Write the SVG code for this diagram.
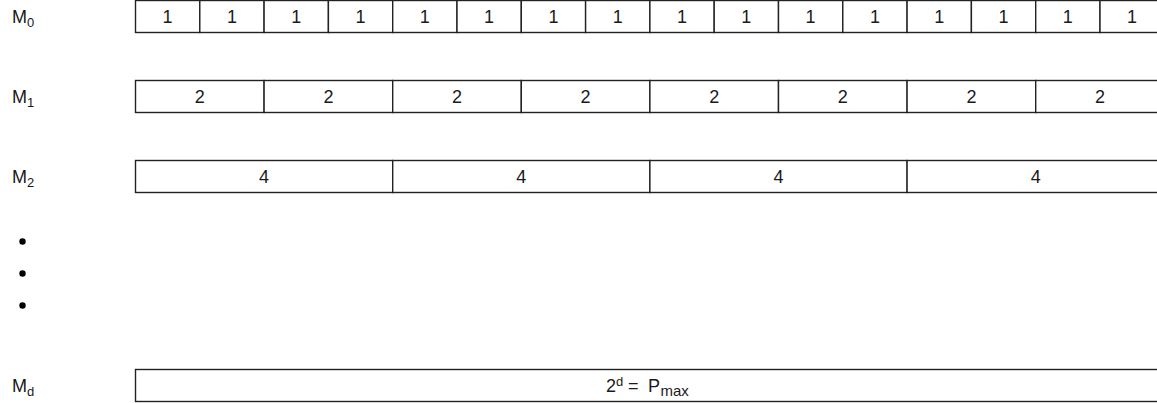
<svg xmlns="http://www.w3.org/2000/svg" width="1157" height="403" viewBox="0 0 1157 403">
<style>
.cell{fill:#fff;stroke:#222;stroke-width:1.4}
.t{font-family:"Liberation Sans",Arial,sans-serif;font-size:18px;fill:#1a1a1a;text-anchor:middle}
.lab{font-family:"Liberation Sans",Arial,sans-serif;font-size:18px;fill:#1a1a1a}
.sub{font-size:13px}
</style>
<rect width="1157" height="403" fill="#fff"/>
<g id="labels">
<text class="lab" x="12" y="23">M<tspan class="sub" dy="4">0</tspan></text>
<text class="lab" x="12" y="103">M<tspan class="sub" dy="4">1</tspan></text>
<text class="lab" x="12" y="183">M<tspan class="sub" dy="4">2</tspan></text>
<text class="lab" x="12" y="392">M<tspan class="sub" dy="4">d</tspan></text>
<circle cx="22.5" cy="241.5" r="3.2" fill="#000"/>
<circle cx="22.5" cy="273.5" r="3.2" fill="#000"/>
<circle cx="22.5" cy="305.5" r="3.2" fill="#000"/>
</g>
<g id="row-M0">
<rect class="cell" x="135.5" y="0.5" width="64.3" height="32"/><text class="t" x="167.6" y="23">1</text>
<rect class="cell" x="199.8" y="0.5" width="64.3" height="32"/><text class="t" x="231.9" y="23">1</text>
<rect class="cell" x="264.1" y="0.5" width="64.3" height="32"/><text class="t" x="296.2" y="23">1</text>
<rect class="cell" x="328.4" y="0.5" width="64.3" height="32"/><text class="t" x="360.5" y="23">1</text>
<rect class="cell" x="392.7" y="0.5" width="64.3" height="32"/><text class="t" x="424.8" y="23">1</text>
<rect class="cell" x="457.0" y="0.5" width="64.3" height="32"/><text class="t" x="489.1" y="23">1</text>
<rect class="cell" x="521.3" y="0.5" width="64.3" height="32"/><text class="t" x="553.4" y="23">1</text>
<rect class="cell" x="585.6" y="0.5" width="64.3" height="32"/><text class="t" x="617.7" y="23">1</text>
<rect class="cell" x="649.9" y="0.5" width="64.3" height="32"/><text class="t" x="682.0" y="23">1</text>
<rect class="cell" x="714.2" y="0.5" width="64.3" height="32"/><text class="t" x="746.3" y="23">1</text>
<rect class="cell" x="778.5" y="0.5" width="64.3" height="32"/><text class="t" x="810.6" y="23">1</text>
<rect class="cell" x="842.8" y="0.5" width="64.3" height="32"/><text class="t" x="874.9" y="23">1</text>
<rect class="cell" x="907.1" y="0.5" width="64.3" height="32"/><text class="t" x="939.2" y="23">1</text>
<rect class="cell" x="971.4" y="0.5" width="64.3" height="32"/><text class="t" x="1003.5" y="23">1</text>
<rect class="cell" x="1035.7" y="0.5" width="64.3" height="32"/><text class="t" x="1067.8" y="23">1</text>
<rect class="cell" x="1100.0" y="0.5" width="64.3" height="32"/><text class="t" x="1132.1" y="23">1</text>
</g>
<g id="row-M1">
<rect class="cell" x="135.5" y="80.5" width="128.6" height="32"/><text class="t" x="199.8" y="103">2</text>
<rect class="cell" x="264.1" y="80.5" width="128.6" height="32"/><text class="t" x="328.4" y="103">2</text>
<rect class="cell" x="392.7" y="80.5" width="128.6" height="32"/><text class="t" x="457.0" y="103">2</text>
<rect class="cell" x="521.3" y="80.5" width="128.6" height="32"/><text class="t" x="585.6" y="103">2</text>
<rect class="cell" x="649.9" y="80.5" width="128.6" height="32"/><text class="t" x="714.2" y="103">2</text>
<rect class="cell" x="778.5" y="80.5" width="128.6" height="32"/><text class="t" x="842.8" y="103">2</text>
<rect class="cell" x="907.1" y="80.5" width="128.6" height="32"/><text class="t" x="971.4" y="103">2</text>
<rect class="cell" x="1035.7" y="80.5" width="128.6" height="32"/><text class="t" x="1100.0" y="103">2</text>
</g>
<g id="row-M2">
<rect class="cell" x="135.5" y="160.5" width="257.2" height="32"/><text class="t" x="264.1" y="183">4</text>
<rect class="cell" x="392.7" y="160.5" width="257.2" height="32"/><text class="t" x="521.3" y="183">4</text>
<rect class="cell" x="649.9" y="160.5" width="257.2" height="32"/><text class="t" x="778.5" y="183">4</text>
<rect class="cell" x="907.1" y="160.5" width="257.2" height="32"/><text class="t" x="1035.7" y="183">4</text>
</g>
<g id="row-Md">
<rect class="cell" x="135.5" y="369.5" width="1028.8" height="32"/>
<text class="lab" x="606" y="392">2<tspan class="sub" dy="-6">d</tspan><tspan x="628" dy="6">=</tspan><tspan x="648">P</tspan><tspan class="sub" x="660.5" dy="4" style="font-size:15px">max</tspan></text>
</g>
<g id="connectors"/>
</svg>
